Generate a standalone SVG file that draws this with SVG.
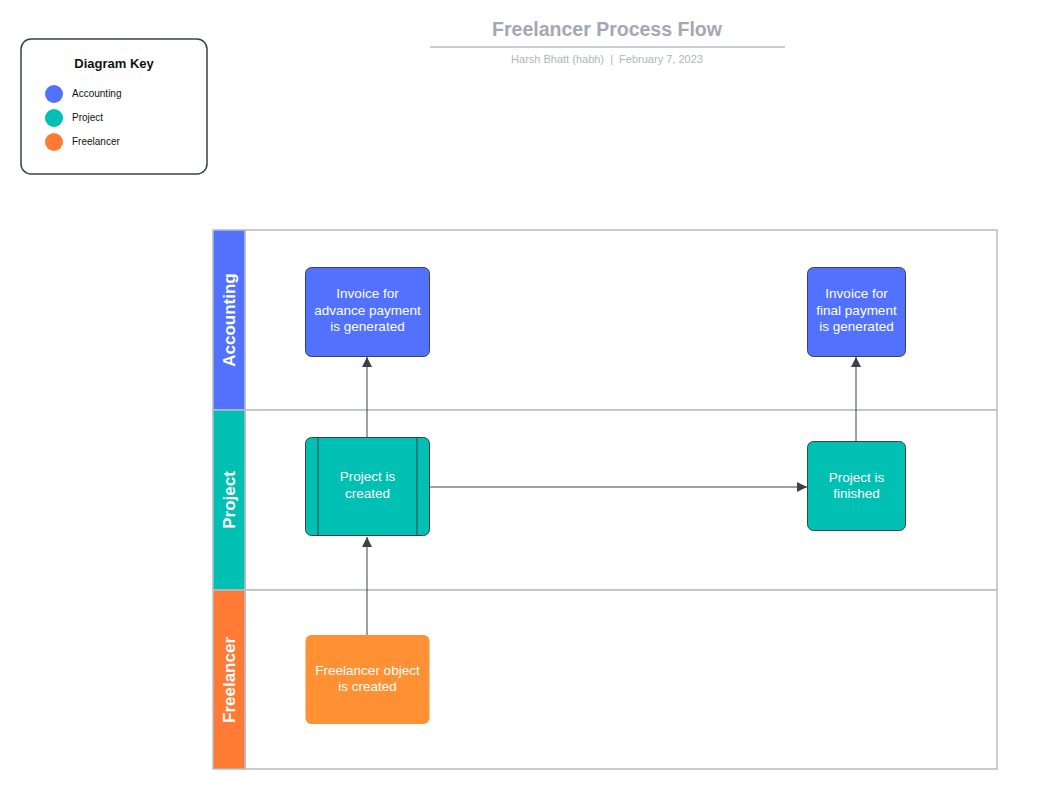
<svg xmlns="http://www.w3.org/2000/svg" width="1064" height="800" viewBox="0 0 1064 800">
<defs>
<style>
.t{font-family:"Liberation Sans",Arial,sans-serif}
.node text{font-family:"Liberation Sans",Arial,sans-serif;font-size:13.5px;fill:#ffffff;text-anchor:middle}
.lane{fill:#ffffff;stroke:#b8bcc2;stroke-width:1.5}
.hdr text{font-family:"Liberation Sans",Arial,sans-serif;font-size:17px;font-weight:bold;fill:#ffffff;text-anchor:middle}
.conn{stroke:#3a414a;stroke-width:1;fill:none;marker-end:url(#arr)}
.key text{font-family:"Liberation Sans",Arial,sans-serif;font-size:10px;fill:#111111}
.key text.kt{font-size:13px;font-weight:bold;text-anchor:middle}
</style>
<marker id="arr" viewBox="0 0 10 10" refX="10" refY="5" markerWidth="10" markerHeight="10" markerUnits="userSpaceOnUse" orient="auto">
<path d="M0,0 L10,5 L0,10 z" fill="#3a414a"/>
</marker>
</defs>
<rect width="1064" height="800" fill="#ffffff"/>

<g id="title">
<text class="t" x="607" y="36" text-anchor="middle" font-size="19.5" font-weight="bold" fill="#a3a8b3">Freelancer Process Flow</text>
<line x1="430" y1="47" x2="785" y2="47" stroke="#b8bcc4" stroke-width="1.5"/>
<text class="t" x="607" y="63" text-anchor="middle" font-size="11" fill="#b0b4bc" xml:space="preserve">Harsh Bhatt (habh)  |  February 7, 2023</text>
</g>

<g id="key" class="key">
<rect x="21" y="39" width="186" height="135" rx="10" fill="#ffffff" stroke="#3a414a" stroke-width="1.5"/>
<text class="kt" x="114" y="68">Diagram Key</text>
<circle cx="54" cy="94" r="9" fill="#5271ff"/>
<text x="72" y="97">Accounting</text>
<circle cx="54" cy="118" r="9" fill="#00bfb3"/>
<text x="72" y="121">Project</text>
<circle cx="54" cy="142" r="9" fill="#ff7a35"/>
<text x="72" y="145">Freelancer</text>
</g>

<g id="lane-accounting">
<rect class="lane" x="245" y="230" width="752" height="180"/>
<g class="hdr"><rect x="213" y="230" width="32" height="180" fill="#5271ff" stroke="#b8bcc2" stroke-width="1.5"/>
<text transform="translate(235,320) rotate(-90)">Accounting</text></g>
</g>
<g id="lane-project">
<rect class="lane" x="245" y="410" width="752" height="180"/>
<g class="hdr"><rect x="213" y="410" width="32" height="180" fill="#00bfb3" stroke="#b8bcc2" stroke-width="1.5"/>
<text transform="translate(235,500) rotate(-90)">Project</text></g>
</g>
<g id="lane-freelancer">
<rect class="lane" x="245" y="590" width="752" height="179"/>
<g class="hdr"><rect x="213" y="590" width="32" height="179" fill="#ff7a35" stroke="#b8bcc2" stroke-width="1.5"/>
<text transform="translate(235,680) rotate(-90)">Freelancer</text></g>
</g>

<g id="connectors">
<line class="conn" x1="367" y1="635" x2="367" y2="537"/>
<line class="conn" x1="367" y1="437" x2="367" y2="357"/>
<line class="conn" x1="430" y1="487" x2="807" y2="487"/>
<line class="conn" x1="856" y1="441" x2="856" y2="357"/>
</g>

<g id="invoice-advance" class="node">
<rect x="305.5" y="267.5" width="124" height="89" rx="6" fill="#5271ff" stroke="#3a414a" stroke-width="1"/>
<text x="367.5" y="298">Invoice for</text>
<text x="367.5" y="314.5">advance payment</text>
<text x="367.5" y="331">is generated</text>
</g>

<g id="invoice-final" class="node">
<rect x="807.5" y="267.5" width="98" height="89" rx="6" fill="#5271ff" stroke="#3a414a" stroke-width="1"/>
<text x="856.5" y="298">Invoice for</text>
<text x="856.5" y="314.5">final payment</text>
<text x="856.5" y="331">is generated</text>
</g>

<g id="project-created" class="node">
<rect x="305.5" y="437.5" width="124" height="98" rx="6" fill="#00bfb3" stroke="#3a414a" stroke-width="1"/>
<line x1="318" y1="437.5" x2="318" y2="535.5" stroke="#3a414a" stroke-width="1"/>
<line x1="417" y1="437.5" x2="417" y2="535.5" stroke="#3a414a" stroke-width="1"/>
<text x="367.5" y="481">Project is</text>
<text x="367.5" y="497.5">created</text>
</g>

<g id="project-finished" class="node">
<rect x="807.5" y="441.5" width="98" height="89" rx="6" fill="#00bfb3" stroke="#3a414a" stroke-width="1"/>
<text x="856.5" y="482">Project is</text>
<text x="856.5" y="498">finished</text>
</g>

<g id="freelancer-object" class="node">
<rect x="305.5" y="635" width="124" height="89" rx="6" fill="#ff9033"/>
<text x="367.5" y="675">Freelancer object</text>
<text x="367.5" y="691">is created</text>
</g>
</svg>
